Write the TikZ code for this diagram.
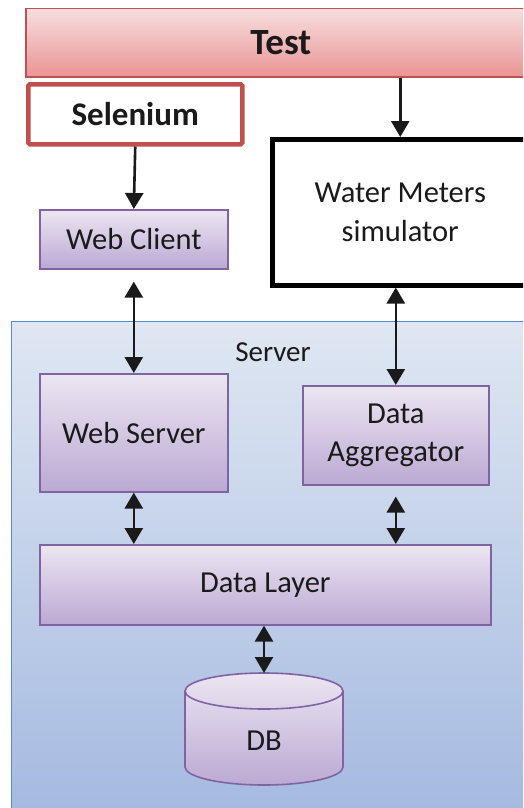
\documentclass[tikz,border=0pt]{standalone}
\usepackage{fontspec}
\setmainfont{Carlito}
\usetikzlibrary{arrows.meta,calc}
\definecolor{testtop}{HTML}{F7DEDF}
\definecolor{testbot}{HTML}{EA9494}
\definecolor{redline}{HTML}{C0504D}
\definecolor{purtop}{HTML}{ECE6F2}
\definecolor{purbot}{HTML}{BBA9D3}
\definecolor{purline}{HTML}{8064A2}
\definecolor{srvtop}{HTML}{DFE7F2}
\definecolor{srvbot}{HTML}{A4B9E0}
\definecolor{srvline}{HTML}{5A8AC6}
\definecolor{ink}{HTML}{1A1A1A}
\tikzset{
  boxbase/.style={anchor=north west, inner sep=0pt, align=center, text=ink, font=\fontsize{30.5}{38.5}\selectfont},
  purbox/.style={boxbase, draw=purline, line width=1.6pt, top color=purtop, bottom color=purbot},
  arr/.style={line width=2.6pt, draw=ink, -{Triangle[width=18pt,length=16pt]}},
  darr/.style={line width=2.6pt, draw=ink, {Triangle[width=18pt,length=16pt]}-{Triangle[width=18pt,length=16pt]}},
}
\begin{document}
\begin{tikzpicture}[x=1pt,y=-1pt]
\useasboundingbox (0,0) rectangle (523,808);
\clip (0,0) rectangle (523,808);
% Server region
\node[boxbase, draw=srvline, line width=1.4pt, top color=srvtop, bottom color=srvbot,
      minimum width=530pt, minimum height=500pt] (srv) at (11,321) {};
\node[text=ink, font=\fontsize{29}{34}\selectfont, anchor=base] (srvlbl) at (273,361) {Server};
% Test bar
\node[boxbase, draw=redline, line width=1.5pt, top color=testtop, bottom color=testbot,
      minimum width=510pt, minimum height=68pt, font=\fontsize{37}{40}\selectfont\bfseries] (test) at (25,8) {Test};
% Selenium
\node[boxbase, draw=redline, line width=4.5pt, fill=white, rounded corners=1.5pt,
      minimum width=214pt, minimum height=60pt, font=\fontsize{33}{38}\selectfont\bfseries] (sel) at (26,82) {Selenium};
% Water meters simulator
\node[boxbase, draw=black, line width=4.5pt, fill=white,
      minimum width=256pt, minimum height=146pt] (wm) at (270,137) {Water Meters\\simulator};
% Web client
\node[purbox, minimum width=188pt, minimum height=59pt] (wc) at (39,209) {Web Client};
% Web server
\node[purbox, minimum width=188pt, minimum height=118pt] (ws) at (39,373) {Web Server};
% Data aggregator
\node[purbox, minimum width=186pt, minimum height=99pt] (da) at (302,385) {Data\\Aggregator};
% Data layer
\node[purbox, minimum width=451pt, minimum height=80pt] (dl) at (39,544) {Data Layer};
% DB cylinder
\coordinate (dbtop) at (264,673);
\path[draw=purline, line width=1.6pt, top color=purtop, bottom color=purbot]
  (185,691) -- (185,767) arc[start angle=180, end angle=360, x radius=79pt, y radius=18pt]
  -- (343,691) arc[start angle=0, end angle=180, x radius=79pt, y radius=18pt] -- cycle;
\draw[draw=purline, line width=1.6pt] (185,691) arc[start angle=180, end angle=360, x radius=79pt, y radius=18pt];
\node[text=ink, font=\fontsize{30.5}{38}\selectfont] (db) at (264,741) {DB};
% connectors
\draw[arr] (test.south -| wm.north) -- (wm.north);
\draw[arr] (sel.south) -- (wc.north);
\draw[darr, shorten <=12pt] (wc.south) -- (ws.north);
\draw[darr] (da.north |- wm.south) -- (da.north);
\draw[darr] (ws.south) -- (ws.south |- dl.north);
\draw[darr, shorten <=11pt] (da.south) -- (da.south |- dl.north);
\draw[darr] (dl.south -| dbtop) -- (dbtop);
\end{tikzpicture}
\end{document}
